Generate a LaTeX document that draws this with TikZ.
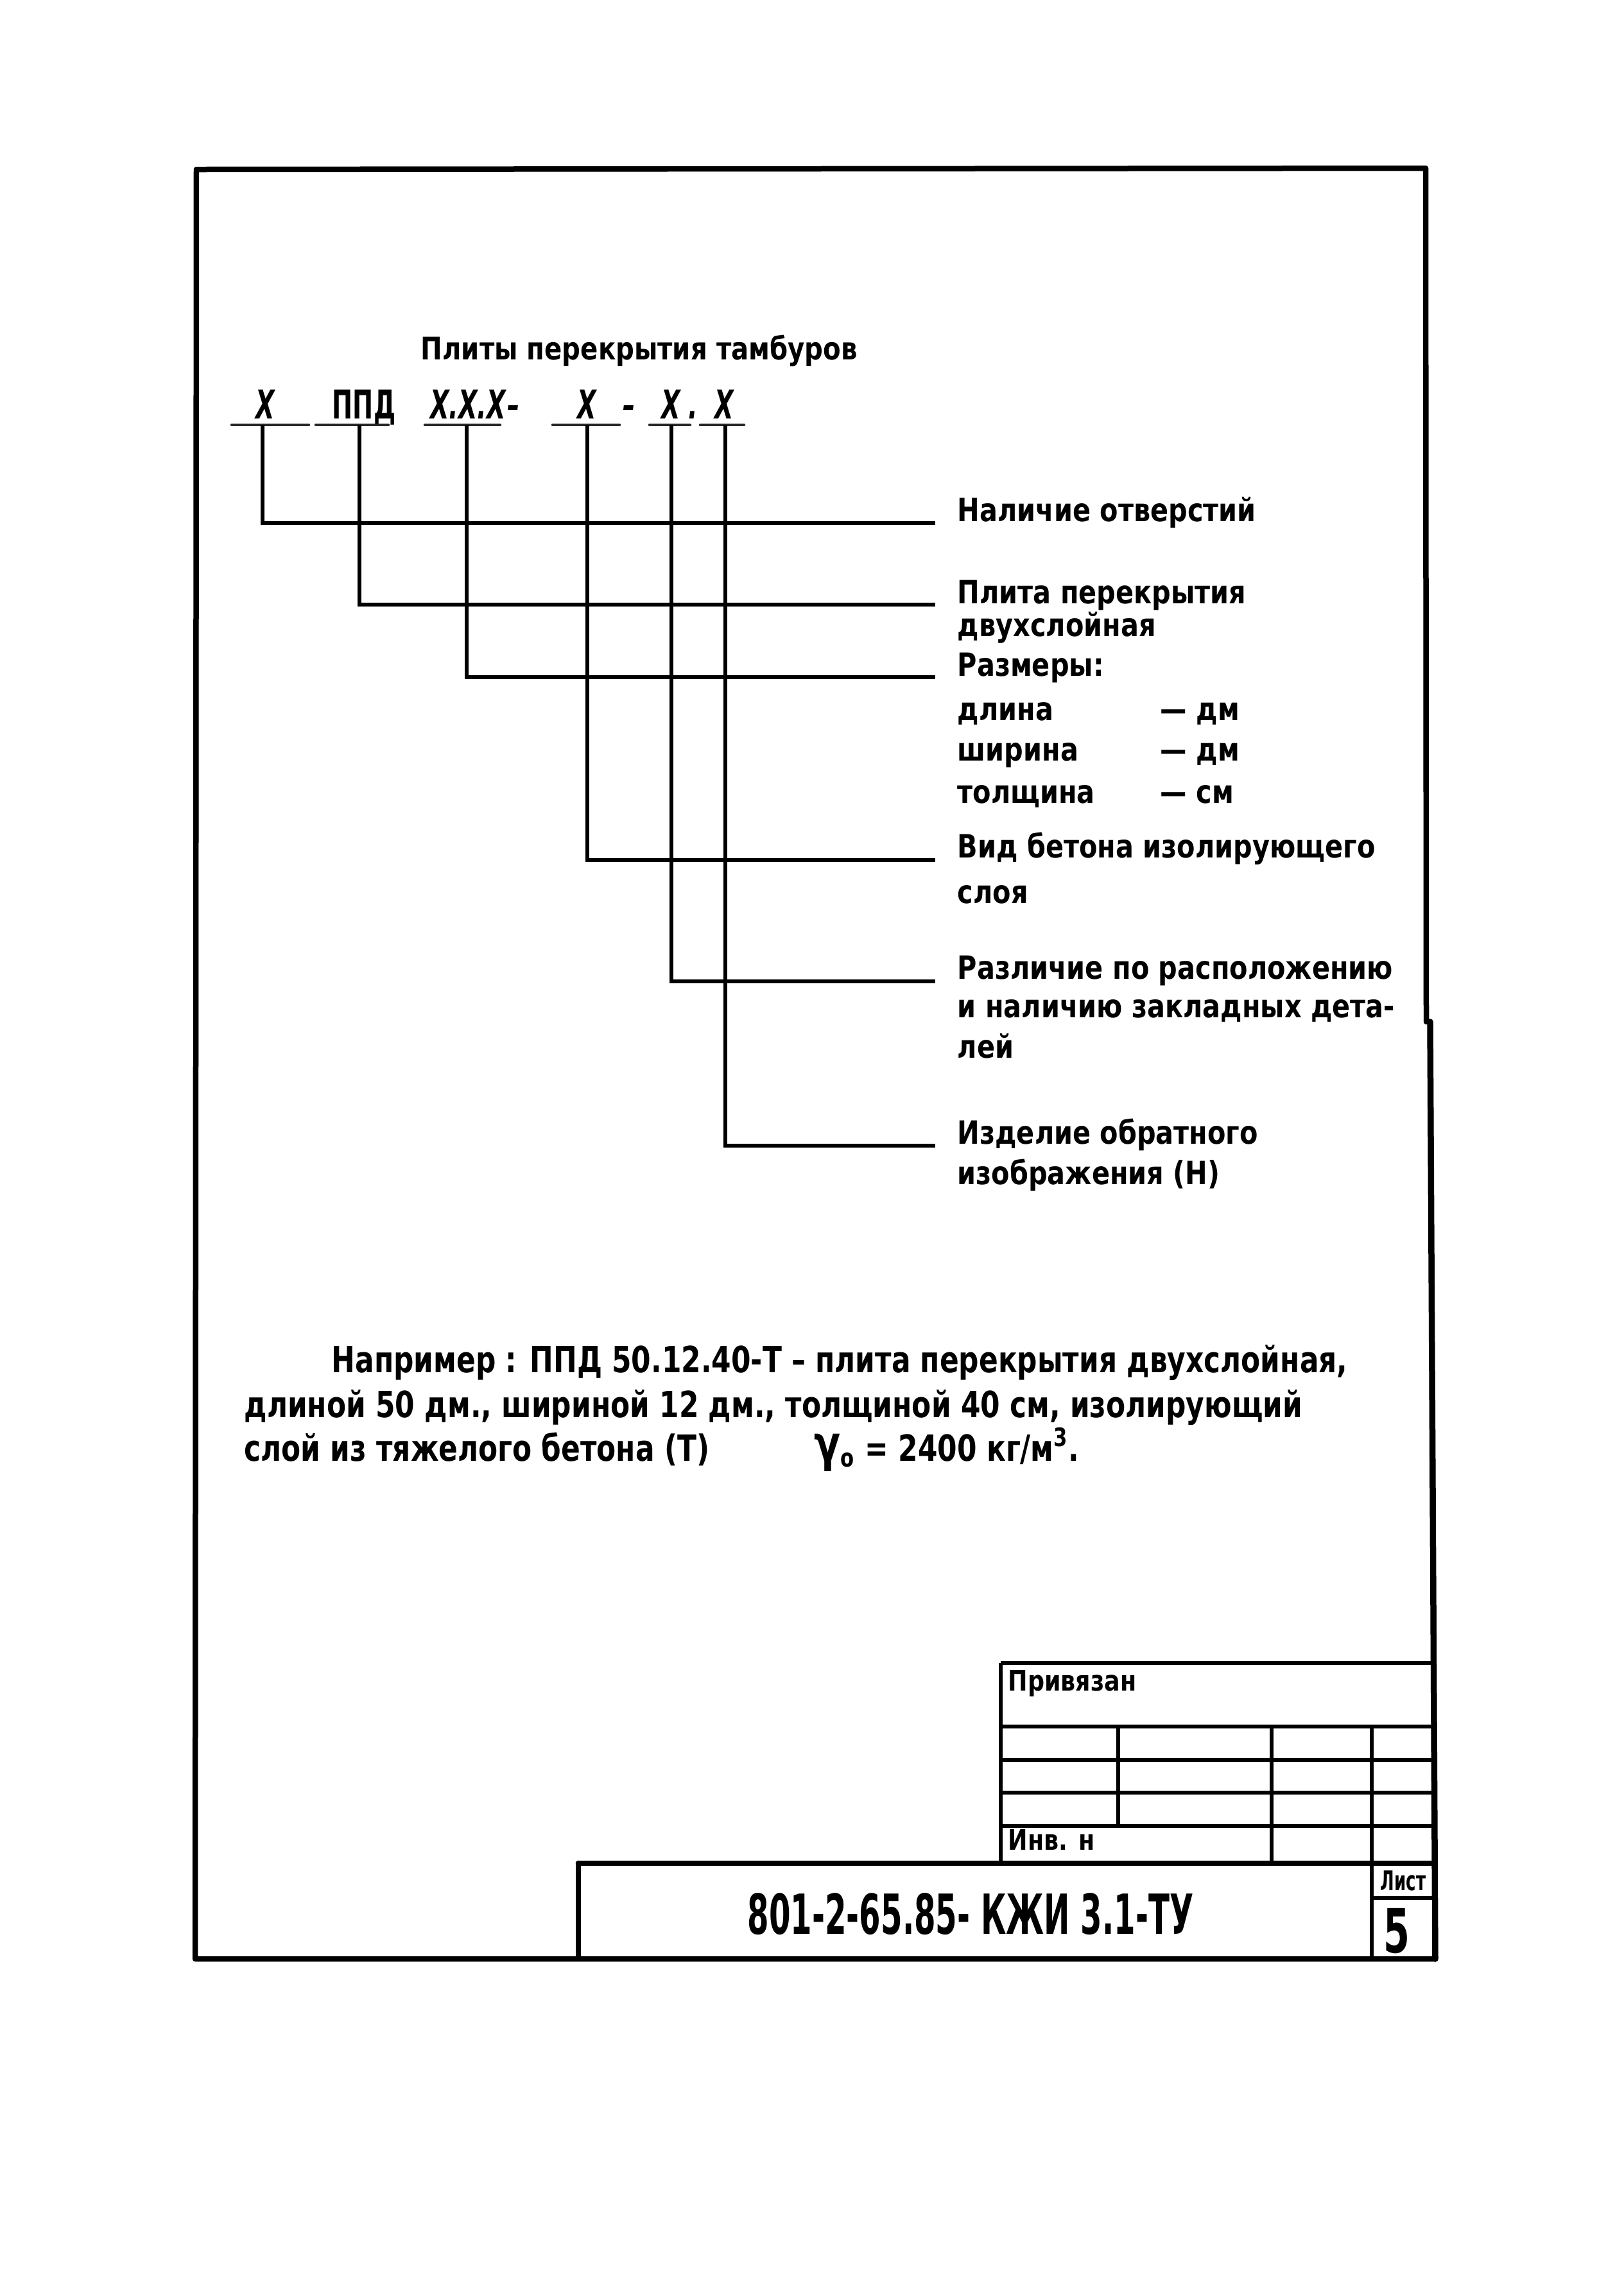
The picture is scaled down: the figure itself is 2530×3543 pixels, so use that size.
\documentclass[tikz,border=0pt]{standalone}
\usepackage{fontspec}
\usepackage{graphicx}
\setmainfont{DejaVu Sans}[FakeStretch=0.83]
\newfontfamily\narrowfont{DejaVu Sans}[FakeStretch=0.62]
\newfontfamily\docfont{DejaVu Sans}[FakeStretch=0.56]
\newfontfamily\exfam{DejaVu Sans}[FakeStretch=0.78]
\usetikzlibrary{calc}
\newcommand\labfont{\bfseries\fontsize{14.2}{16}\selectfont}
\newcommand\ttlfont{\bfseries\fontsize{13.8}{16}\selectfont}
\newcommand\codefont{\narrowfont\bfseries\itshape\fontsize{17.6}{19}\selectfont}
\newcommand\exfont{\exfam\bfseries\fontsize{16}{18}\selectfont}
\newcommand\tbfont{\bfseries\fontsize{12.5}{14}\selectfont}
\begin{document}
\begin{tikzpicture}[x=0.1mm,y=-0.1mm,
  frame/.style={line width=0.85mm,line cap=round,line join=round},
  tree/.style={line width=0.6mm,line join=miter},
  uline/.style={line width=0.45mm,line cap=round,black!85},
  grid/.style={line width=0.65mm},
  lab/.style={anchor=base west,inner sep=0pt,font=\labfont},
  ttl/.style={anchor=base west,inner sep=0pt,font=\ttlfont},
  codetxt/.style={anchor=base,inner sep=0pt,font=\codefont},
  extxt/.style={anchor=base west,inner sep=0pt,font=\exfont},
  tbtxt/.style={anchor=base west,inner sep=0pt,font=\tbfont}]
\useasboundingbox (0,0) rectangle (2530,3543);
\fill[white] (0,0) rectangle (2530,3543);

% frame
\draw[frame] (306,264) -- (2221,262) -- (2222,1592);
\draw[frame,line width=0.95mm] (2228,1592) -- (2236,3052);
\draw[frame] (306,264) -- (304,3052) -- (2236,3052);

% title
\node[ttl] (title) at (655,560) {Плиты перекрытия тамбуров};

% code
\node[codetxt] (c1) at (413,652) {Х};
\node[codetxt] (c2) at (567,652) {\upshape ППД};
\node[codetxt] (c3) at (729,652) {Х.Х.Х};
\node[codetxt] (k3) at (800,652) {–};
\node[codetxt] (c4) at (914,652) {Х};
\node[codetxt] (k4) at (980,652) {–};
\node[codetxt] (c5) at (1045,652) {Х};
\node[codetxt] (k5) at (1080,652) {.};
\node[codetxt] (c6) at (1128,652) {Х};

\draw[uline] (361,662) -- (481,662);
\draw[uline] (492,662) -- (605,662);
\draw[uline] (662,662) -- (779,662);
\draw[uline] (861,662) -- (965,662);
\draw[uline] (1012,662) -- (1075,662);
\draw[uline] (1091,662) -- (1159,662);

\coordinate (t1) at (409,662);
\coordinate (t2) at (560,662);
\coordinate (t3) at (727,662);
\coordinate (t4) at (915,662);
\coordinate (t5) at (1046,662);
\coordinate (t6) at (1130,662);

% labels
\node[lab] (l1) at (1491,812) {Наличие отверстий};
\node[lab] (l2a) at (1491,940) {Плита перекрытия};
\node[lab] (l2b) at (1491,991) {двухслойная};
\node[lab] (l3) at (1491,1053) {Размеры:};
\node[lab] (d1) at (1491,1122) {длина};
\node[lab] (u1) at (1807,1122) {— дм};
\node[lab] (d2) at (1491,1185) {ширина};
\node[lab] (u2) at (1807,1185) {— дм};
\node[lab] (d3) at (1491,1251) {толщина};
\node[lab] (u3) at (1807,1251) {— см};
\node[lab] (l4a) at (1491,1336) {Вид бетона изолирующего};
\node[lab] (l4b) at (1491,1407) {слоя};
\node[lab] (l5a) at (1491,1525) {Различие по расположению};
\node[lab] (l5b) at (1491,1585) {и наличию закладных дета-};
\node[lab] (l5c) at (1491,1648) {лей};
\node[lab] (l6a) at (1491,1782) {Изделие обратного};
\node[lab] (l6b) at (1491,1845) {изображения (Н)};

\coordinate (e1) at ($(l1.base west)+(-34,3)$);
\coordinate (e2) at ($(l2a.base west)+(-34,2)$);
\coordinate (e3) at ($(l3.base west)+(-34,2)$);
\coordinate (e4) at ($(l4a.base west)+(-34,4)$);
\coordinate (e5) at ($(l5a.base west)+(-34,4)$);
\coordinate (e6) at ($(l6a.base west)+(-34,3)$);

\draw[tree] (t1) |- (e1);
\draw[tree] (t2) |- (e2);
\draw[tree] (t3) |- (e3);
\draw[tree] (t4) |- (e4);
\draw[tree] (t5) |- (e5);
\draw[tree] (t6) |- (e6);

% example
\node[extxt] (ex1) at (516,2138) {Например : ППД 50.12.40-Т – плита перекрытия двухслойная,};
\node[extxt] (ex2) at (380,2208) {длиной 50 дм., шириной 12 дм., толщиной 40 см, изолирующий};
\node[extxt] (ex3a) at (380,2276) {слой из тяжелого бетона (Т)};
\node[extxt] (ex3b) at (1268,2276) {{\fontsize{22}{22}\selectfont γ}\textsubscript{o} = 2400 кг/м\textsuperscript{3}.};

% title block
\draw[grid] (1559,2591) -- (2232,2591);
\draw[grid] (1559,2591) -- (1559,2903);
\foreach \yy in {2690,2742,2793,2845} {\draw[grid] (1559,\yy) -- (2235,\yy);}
\draw[grid] (1742,2690) -- (1742,2845);
\draw[grid] (1981,2690) -- (1981,2903);
\draw[grid] (2137,2690) -- (2137,3052);
\draw[grid] (2137,2957) -- (2236,2957);
\draw[frame] (901,2903) -- (2236,2903);
\draw[frame] (901,2903) -- (901,3052);

\node[tbtxt] (priv) at (1570,2634) {Привязан};
\node[tbtxt] (inv) at (1570,2882) {Инв. н};
\node[anchor=base,inner sep=0pt,font=\narrowfont\bfseries\fontsize{12}{12}\selectfont] (list) at (2186,2945) {Лист};
\node[anchor=base,inner sep=0pt,font=\narrowfont\bfseries\fontsize{27}{27}\selectfont] (num) at (2176,3042) {5};
\node[anchor=base,inner sep=0pt,font=\docfont\bfseries\fontsize{24.5}{26}\selectfont] (doc) at (1512,3013) {801-2-65.85- КЖИ 3.1-ТУ};
\end{tikzpicture}
\end{document}
